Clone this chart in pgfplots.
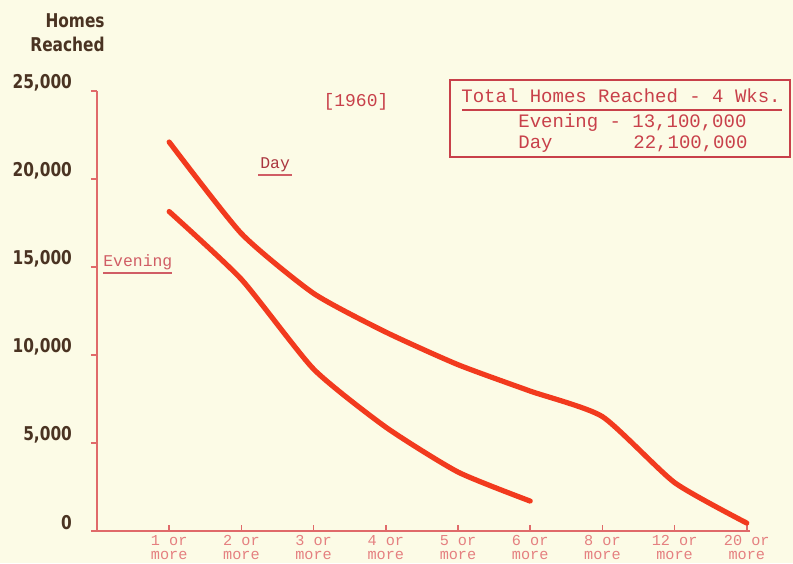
\documentclass[border=0pt]{standalone}
\usepackage{pgfplots}
\pgfplotsset{compat=1.18}
\usepackage{fontspec}
\setmainfont{Liberation Sans}
\setmonofont{Liberation Mono}
\newfontfamily\cond{DejaVu Sans Condensed}[FakeStretch=0.9, BoldFont={DejaVu Sans Condensed Bold}]

\definecolor{bg}{HTML}{FCFBE6}
\definecolor{ink}{HTML}{4A3322}
\definecolor{axred}{HTML}{E06A6A}
\definecolor{curve}{HTML}{F23A1E}
\definecolor{txtred}{HTML}{C8404A}

\begin{document}
\begin{tikzpicture}
\useasboundingbox (0,0) rectangle (396.5pt,281.5pt);
\fill[bg] (0,0) rectangle (396.5pt,281.5pt);

\begin{axis}[
  at={(48.5pt,16pt)}, anchor=south west,
  scale only axis, width=326.7pt, height=220pt,
  xmin=-1, xmax=8.05, ymin=0, ymax=25000,
  axis x line=bottom, axis y line=left,
  axis line style={-, axred, line width=0.8pt},
  clip=false,
  scaled y ticks=false,
  xtick={0,...,8},
  xticklabels={1 or\\more, 2 or\\more, 3 or\\more, 4 or\\more, 5 or\\more,
               6 or\\more, 8 or\\more, 12 or\\more, 20 or\\more},
  xtick style={axred, line width=0.8pt},
  x tick label style={align=center, text=axred!85,
    font=\fontsize{7.6}{7}\selectfont\ttfamily, anchor=north, yshift=1.5pt},
  xtick align=inside,
  major tick length=3pt,
  ytick={0,5000,10000,15000,20000,25000},
  yticklabels={0, {5,000}, {10,000}, {15,000}, {20,000}, {25,000}},
  ytick style={axred, line width=0.8pt},
  ytick align=outside,
  y tick label style={anchor=east, text=ink, xshift=-6pt, yshift=4pt,
    font=\fontsize{9.5}{11}\selectfont\cond\bfseries},
]
% Day
\addplot[curve, line width=2.6pt, line cap=round, smooth, tension=0.35] coordinates {
  (0,22100) (1,16900) (2,13500) (3,11300) (4,9450) (5,7950) (6,6500) (7,2750) (8,450)
};
% Evening
\addplot[curve, line width=2.6pt, line cap=round, smooth, tension=0.35] coordinates {
  (0,18150) (1,14300) (2,9200) (3,5900) (4,3350) (5,1700)
};
\end{axis}

\begin{scope}[x=0.5pt, y=-0.5pt, yshift=281.5pt]
  % y axis title
  \node[anchor=east, inner sep=0, text=ink, font=\fontsize{9.5}{11}\selectfont\cond\bfseries] at (105,21) {Homes};
  \node[anchor=east, inner sep=0, text=ink, font=\fontsize{9.5}{11}\selectfont\cond\bfseries] at (105,44) {Reached};
  % year
  \node[anchor=center, inner sep=0, text=txtred, font=\fontsize{9}{10}\selectfont\ttfamily] at (356,102) {[1960]};
  % totals box
  \draw[txtred, line width=0.7pt] (450,80) rectangle (790,157);
  \node[anchor=west, inner sep=0, text=txtred, font=\fontsize{9.5}{10}\selectfont\ttfamily] at (461,96) {Total Homes Reached - 4 Wks.};
  \draw[txtred, line width=0.7pt] (462,110) -- (782,110);
  \node[anchor=west, inner sep=0, text=txtred, font=\fontsize{9.5}{10}\selectfont\ttfamily] at (518,123) {Evening - 13,100,000};
  \node[anchor=west, inner sep=0, text=txtred, font=\fontsize{9.5}{10}\selectfont\ttfamily] at (518,144) {Day};
  \node[anchor=west, inner sep=0, text=txtred, font=\fontsize{9.5}{10}\selectfont\ttfamily] at (633,144) {22,100,000};
  % curve labels
  \node[anchor=west, inner sep=0, text=txtred!85, font=\fontsize{8.2}{9}\selectfont\ttfamily] at (103,262) {Evening};
  \draw[txtred!85, line width=0.6pt] (103,273) -- (172,273);
  \node[anchor=west, inner sep=0, text=txtred!85!black, font=\fontsize{8.2}{9}\selectfont\ttfamily] at (260,165) {Day};
  \draw[txtred!85, line width=0.6pt] (258,175) -- (292,175);
\end{scope}
\end{tikzpicture}
\end{document}
